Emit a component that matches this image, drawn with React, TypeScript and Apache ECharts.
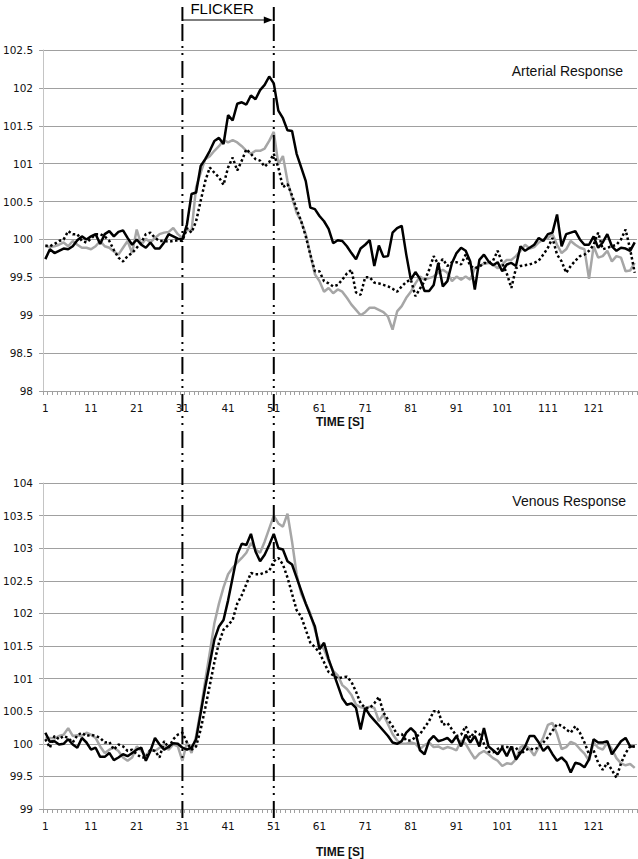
import React, { useEffect, useRef } from 'react';
import * as echarts from 'echarts';

// Time categories 1..130 s
const categories: string[] = [];
for (let i = 1; i <= 130; i++) categories.push(String(i));

const flickerStart = '31';
const flickerEnd = '51';

// Arterial response
const artBlack = [
  99.74, 99.87, 99.82, 99.85, 99.88, 99.87, 99.91, 99.99, 100.04, 100.0,
  100.04, 100.07, 99.94, 100.07, 100.11, 100.04, 100.1, 100.12, 100.02, 99.93,
  100.0, 99.93, 99.89, 99.96, 99.88, 99.88, 99.96, 100.07, 100.04, 100.01,
  100.0, 100.2, 100.6, 100.62, 100.97, 101.06, 101.17, 101.3, 101.34, 101.26,
  101.64, 101.57, 101.79, 101.81, 101.78, 101.9, 101.85, 101.97, 102.04, 102.15,
  102.06, 101.7, 101.6, 101.44, 101.43, 101.13, 100.95, 100.77, 100.42, 100.4,
  100.31, 100.24, 100.14, 99.95, 99.99, 99.98, 99.91, 99.82, 99.74, 99.88,
  99.93, 99.99, 99.65, 99.92, 99.77, 99.78, 100.09, 100.15, 100.18, 99.8,
  99.47, 99.57, 99.48, 99.32, 99.32, 99.4, 99.69, 99.38, 99.45, 99.69,
  99.82, 99.89, 99.85, 99.71, 99.34, 99.73, 99.8, 99.71, 99.66, 99.7,
  99.58, 99.67, 99.69, 99.65, 99.91, 99.85, 99.89, 99.93, 100.02, 99.98,
  100.07, 100.09, 100.33, 99.91, 100.07, 100.09, 100.11, 100.0, 99.93, 99.93,
  100.04, 99.89, 99.96, 100.07, 99.91, 99.85, 99.89, 99.88, 99.85, 99.96,
];
const artGray = [
  99.91, 99.9, 99.91, 99.93, 99.96, 99.91, 99.98, 99.93, 99.89, 99.89,
  99.87, 99.91, 99.98, 99.91, 99.89, 99.84, 99.8, 99.89, 99.98, 99.82,
  100.13, 99.93, 100.01, 99.96, 100.02, 100.07, 100.09, 100.1, 100.15, 100.07,
  100.02, 100.13, 100.11, 100.69, 100.88, 101.06, 101.1, 101.17, 101.23, 101.31,
  101.28, 101.31, 101.28, 101.23, 101.17, 101.13, 101.17, 101.17, 101.2, 101.3,
  101.42, 100.99, 101.1, 100.77, 100.55, 100.35, 100.24, 100.07, 99.8, 99.54,
  99.45, 99.31, 99.36, 99.29, 99.34, 99.31, 99.23, 99.14, 99.07, 99.0,
  99.04, 99.1, 99.1, 99.07, 99.04, 98.98, 98.81, 99.05, 99.12, 99.23,
  99.31, 99.42, 99.51, 99.47, 99.49, 99.51, 99.56, 99.6, 99.56, 99.45,
  99.51, 99.47, 99.51, 99.47, 99.62, 99.65, 99.68, 99.69, 99.67, 99.62,
  99.67, 99.73, 99.73, 99.78, 99.85, 99.93, 99.88, 99.9, 99.96, 100.0,
  100.02, 100.07, 99.93, 99.82, 99.87, 99.98, 99.93, 99.89, 99.87, 99.48,
  99.91, 99.76, 99.78, 99.85, 99.71, 99.78, 99.76, 99.58, 99.59, 99.69,
];
const artDot = [
  99.92, 99.91, 99.94, 99.98, 100.0, 100.11, 100.07, 100.07, 99.98, 99.96,
  100.01, 100.07, 100.07, 100.04, 99.98, 99.86, 99.76, 99.71, 99.78, 99.82,
  99.89, 99.96, 100.07, 100.09, 100.02, 99.98, 99.98, 99.97, 99.98, 99.99,
  99.98, 100.15, 100.09, 100.24, 100.51, 100.77, 100.95, 100.88, 100.82, 100.72,
  100.95, 101.08, 100.91, 101.04, 101.19, 101.13, 101.06, 101.04, 100.96, 101.02,
  101.13, 100.95, 100.69, 100.73, 100.58, 100.4, 100.24, 100.04, 99.8, 99.58,
  99.58, 99.45, 99.42, 99.38, 99.4, 99.47, 99.55, 99.6, 99.3, 99.27,
  99.5, 99.5, 99.43, 99.42, 99.4, 99.38, 99.35, 99.31, 99.38, 99.44,
  99.47, 99.25, 99.35, 99.45, 99.6, 99.78, 99.67, 99.74, 99.65, 99.7,
  99.7, 99.67, 99.8, 99.65, 99.62, 99.64, 99.69, 99.69, 99.72, 99.85,
  99.69, 99.55, 99.36, 99.62, 99.65, 99.66, 99.67, 99.69, 99.72, 99.8,
  99.89, 100.02, 99.8, 99.71, 99.56, 99.65, 99.72, 99.78, 99.8, 99.85,
  99.93, 100.09, 99.87, 99.89, 99.91, 99.93, 100.0, 100.13, 99.87, 99.56,
];

// Venous response
const venBlack = [
  100.17, 100.03, 100.04, 99.99, 100.0, 100.07, 99.99, 99.94, 100.09, 100.02,
  99.91, 99.94, 99.8, 99.8, 99.86, 99.75, 99.79, 99.84, 99.81, 99.86,
  99.91, 99.94, 99.74, 99.89, 100.09, 99.99, 99.91, 99.96, 100.01, 100.0,
  99.94, 99.91, 99.94, 100.07, 100.47, 100.87, 101.23, 101.6, 101.8, 101.9,
  102.2, 102.55, 102.9, 103.07, 103.05, 103.22, 102.95, 102.8, 102.9, 103.05,
  103.22, 103.0, 102.98, 102.8, 102.75, 102.55, 102.35, 102.15, 101.97, 101.8,
  101.45, 101.55, 101.3, 101.1, 100.9, 100.7, 100.6, 100.62, 100.55, 100.22,
  100.55, 100.44, 100.36, 100.28, 100.2, 100.12, 100.02, 100.0, 100.04, 100.17,
  100.24, 100.17, 99.9, 99.84, 100.05, 100.12, 100.04, 100.06, 100.09, 100.02,
  100.12, 99.96, 100.14, 100.02, 100.12, 99.96, 100.24, 99.96, 99.9, 99.84,
  99.94, 99.81, 99.96, 99.76, 99.86, 99.96, 100.12, 100.12, 100.02, 99.89,
  99.96, 99.84, 99.74, 99.79, 99.72, 99.56, 99.71, 99.69, 99.64, 99.76,
  100.07, 100.02, 100.02, 100.04, 99.84, 99.94, 100.04, 100.09, 99.96, 99.96,
];
const venGray = [
  100.09, 100.09, 100.08, 100.12, 100.14, 100.24, 100.12, 100.13, 100.12, 100.17,
  100.14, 100.09, 99.96, 99.86, 99.91, 99.94, 99.89, 99.79, 99.74, 99.79,
  99.96, 99.89, 99.81, 99.91, 99.89, 99.94, 99.96, 99.91, 99.99, 99.96,
  99.74, 100.02, 99.86, 100.12, 100.52, 100.97, 101.4, 101.85, 102.15, 102.4,
  102.6, 102.7, 102.78, 102.85, 102.93, 103.08, 102.98, 102.93, 103.1, 103.3,
  103.5, 103.38, 103.33, 103.53, 103.1, 102.6, 102.3, 102.15, 102.0, 101.75,
  101.52, 101.45, 101.27, 101.12, 101.05, 100.9, 100.84, 100.75, 100.6, 100.56,
  100.55, 100.57, 100.55, 100.35, 100.45, 100.3, 100.15, 100.05, 100.0, 100.0,
  100.02, 100.0, 99.92, 99.98, 100.02, 99.95, 99.96, 99.92, 99.95, 99.93,
  99.9, 100.05, 100.0, 99.88, 99.77, 99.85, 99.89, 99.84, 99.78, 99.74,
  99.66, 99.7, 99.69, 99.76, 99.95, 99.98, 99.92, 99.82, 99.95, 100.1,
  100.29, 100.32, 100.15, 99.92, 99.95, 100.03, 100.0, 99.92, 99.85, 99.74,
  100.02, 99.94, 99.91, 100.02, 99.92, 99.78, 99.7, 99.67, 99.69, 99.63,
];
const venDot = [
  100.07, 99.94, 100.12, 100.07, 100.12, 100.09, 100.02, 100.13, 100.17, 100.12,
  100.14, 100.12, 100.09, 100.02, 100.03, 99.91, 99.99, 99.96, 99.89, 99.91,
  99.84, 99.79, 99.79, 99.91, 99.89, 99.79, 100.04, 99.94, 100.07, 100.14,
  100.17, 100.02, 99.91, 99.96, 100.22, 100.55, 100.9, 101.25, 101.55, 101.75,
  101.82, 101.9, 102.15, 102.28, 102.45, 102.62, 102.6, 102.6, 102.63, 102.65,
  102.8, 102.85, 102.75, 102.55, 102.3, 102.05, 101.95, 101.75, 101.55, 101.48,
  101.4, 101.25, 101.1, 101.05, 101.0, 101.02, 101.03, 100.95, 100.8, 100.62,
  100.55, 100.55, 100.62, 100.72, 100.48, 100.37, 100.27, 100.14, 100.15, 100.05,
  100.05, 100.1, 100.15, 100.25, 100.35, 100.5, 100.5, 100.29, 100.32, 100.22,
  100.12, 100.14, 100.27, 100.09, 100.19, 100.15, 100.0, 99.88, 99.87, 99.92,
  99.96, 99.95, 99.94, 99.94, 99.84, 99.9, 99.93, 99.91, 99.95, 100.02,
  100.1, 100.2, 100.3, 100.28, 100.22, 100.17, 100.27, 100.17, 100.02, 99.84,
  99.9, 99.71, 99.6, 99.71, 99.6, 99.48, 99.7, 99.86, 99.96, 99.96,
];

const GRID_COLOR = '#a0a0a0';
const GRAY = '#a6a6a6';
const LABEL_FONT = 'DejaVu Sans';

function xAxisCfg(gridIndex: number, nameGap: number) {
  return {
    type: 'category' as const,
    gridIndex,
    data: categories,
    boundaryGap: true,
    name: 'TIME [S]',
    nameLocation: 'middle' as const,
    nameGap,
    nameTextStyle: { fontFamily: 'Liberation Sans', fontWeight: 'bold' as const, fontSize: 12, color: '#111' },
    axisLine: { lineStyle: { color: GRID_COLOR, width: 1 } },
    axisTick: { show: true, interval: 0, length: 4, lineStyle: { color: GRID_COLOR } },
    axisLabel: { interval: 9, margin: 11, fontFamily: LABEL_FONT, fontSize: 10.5, color: '#111' },
    splitLine: { show: false },
  };
}

function yAxisCfg(gridIndex: number, min: number, max: number) {
  return {
    type: 'value' as const,
    gridIndex,
    min,
    max,
    interval: 0.5,
    axisLine: { show: true, lineStyle: { color: '#c4c4c4', width: 1 } },
    axisTick: { show: true, length: 4, lineStyle: { color: GRID_COLOR } },
    axisLabel: { margin: 10, fontFamily: LABEL_FONT, fontSize: 10.5, color: '#111' },
    splitLine: { show: true, lineStyle: { color: GRID_COLOR, width: 1 } },
  };
}

function lines(xi: number, black: number[], gray: number[], dot: number[]) {
  return [
    {
      type: 'line' as const, xAxisIndex: xi, yAxisIndex: xi, data: gray, showSymbol: false,
      lineStyle: { color: GRAY, width: 2.5 }, z: 2,
    },
    {
      type: 'line' as const, xAxisIndex: xi, yAxisIndex: xi, data: dot, showSymbol: false,
      lineStyle: { color: '#000', width: 2.5, type: [2.5, 2.5] as number[], cap: 'butt' as const }, z: 3,
    },
    {
      type: 'line' as const, xAxisIndex: xi, yAxisIndex: xi, data: black, showSymbol: false,
      lineStyle: { color: '#000', width: 2.5 }, z: 4,
    },
  ];
}

export default function App() {
  const ref = useRef<HTMLDivElement>(null);
  useEffect(() => {
    if (!ref.current) return;
    const chart = echarts.init(ref.current, undefined, { renderer: 'svg' });
    chart.setOption({
      animation: false,
      backgroundColor: '#fff',
      grid: [
        { left: 42, top: 50, width: 595, height: 341 },
        { left: 43, top: 483, width: 594, height: 331 },
      ],
      xAxis: [xAxisCfg(0, 25), xAxisCfg(1, 37)],
      yAxis: [yAxisCfg(0, 98, 102.5), yAxisCfg(1, 99, 104)],
      series: [...lines(0, artBlack, artGray, artDot), ...lines(1, venBlack, venGray, venDot)],
    });
    const xs = chart.convertToPixel({ xAxisIndex: 0 }, categories.indexOf(flickerStart)) as number;
    const xe = chart.convertToPixel({ xAxisIndex: 0 }, categories.indexOf(flickerEnd)) as number;
    const dash = [17, 5, 2, 5, 2, 6];
    chart.setOption({
      graphic: [
        { type: 'text', x: xs + 8, y: 1, style: { text: 'FLICKER', fontFamily: 'Liberation Sans', fontSize: 15, fill: '#000', verticalAlign: 'top' } },
        { type: 'line', shape: { x1: xs, y1: 7, x2: xs, y2: 21 }, style: { stroke: '#000', lineWidth: 2 } },
        { type: 'line', shape: { x1: xe, y1: 7, x2: xe, y2: 21 }, style: { stroke: '#000', lineWidth: 2 } },
        { type: 'line', shape: { x1: xs, y1: 20, x2: xe - 8, y2: 20 }, style: { stroke: '#000', lineWidth: 1.2 } },
        { type: 'polygon', shape: { points: [[xe - 10, 16.5], [xe - 1, 20], [xe - 10, 23.5]] }, style: { fill: '#000' } },
        { type: 'line', z: 100, shape: { x1: xs, y1: 24, x2: xs, y2: 820 }, style: { stroke: '#000', lineWidth: 2, lineDash: dash } },
        { type: 'line', z: 100, shape: { x1: xe, y1: 24, x2: xe, y2: 820 }, style: { stroke: '#000', lineWidth: 2, lineDash: dash } },
        { type: 'text', x: 623, y: 71, style: { text: 'Arterial Response', fontFamily: 'Liberation Sans', fontSize: 14, fill: '#111', align: 'right', verticalAlign: 'middle' } },
        { type: 'text', x: 626, y: 501, style: { text: 'Venous Response', fontFamily: 'Liberation Sans', fontSize: 14, fill: '#111', align: 'right', verticalAlign: 'middle' } },
      ],
    });
    return () => chart.dispose();
  }, []);
  return (
    <div
      ref={ref}
      style={{ position: 'absolute', left: 0, top: 0, width: 638, height: 859, background: '#fff' }}
    />
  );
}
